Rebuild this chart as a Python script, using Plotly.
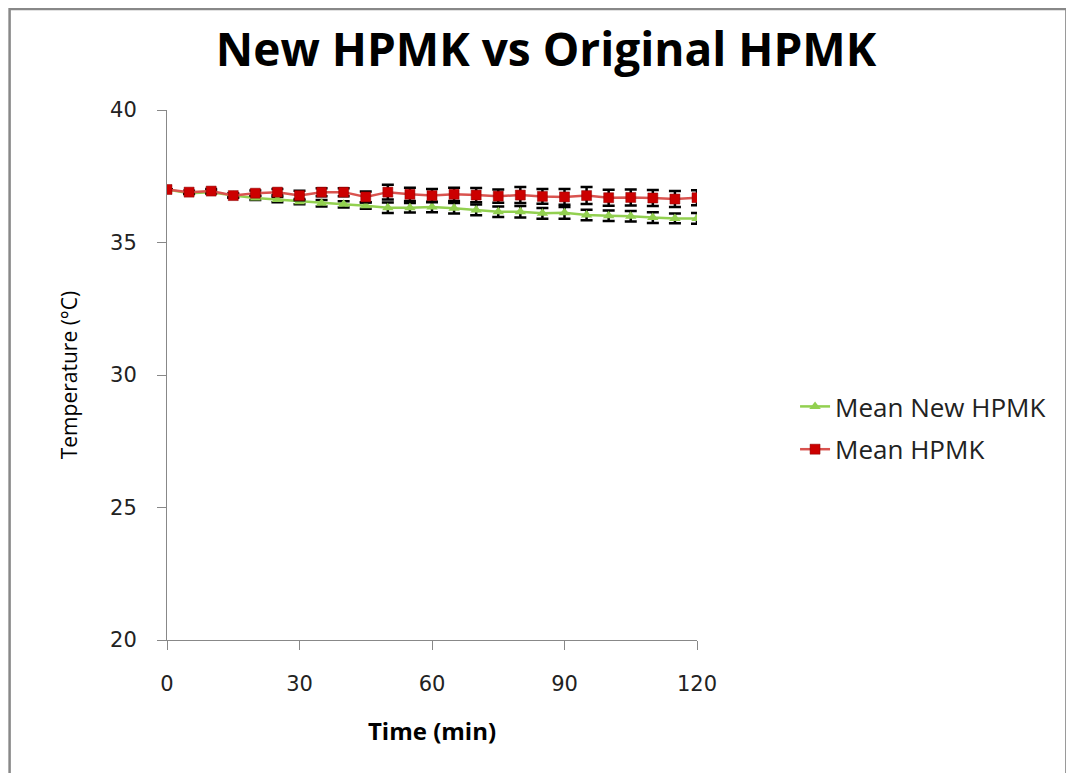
import plotly.graph_objects as go

time_min = [0, 5, 10, 15, 20, 25, 30, 35, 40, 45, 50, 55, 60, 65, 70, 75, 80, 85, 90, 95, 100, 105, 110, 115, 120]

mean_new_hpmk = [37.0, 36.86, 36.9, 36.77, 36.68, 36.62, 36.54, 36.48, 36.44, 36.39, 36.31, 36.31, 36.34, 36.29, 36.23,
                 36.16, 36.16, 36.1, 36.12, 36.04, 36.01, 35.99, 35.94, 35.91, 35.91]
sd_new_hpmk = [0.0, 0.03, 0.05, 0.06, 0.08, 0.1, 0.1, 0.12, 0.12, 0.12, 0.2, 0.18, 0.2, 0.2, 0.2,
               0.2, 0.22, 0.2, 0.22, 0.2, 0.2, 0.2, 0.2, 0.18, 0.2]

mean_hpmk = [37.0, 36.9, 36.94, 36.77, 36.86, 36.9, 36.77, 36.9, 36.9, 36.72, 36.9, 36.82, 36.77, 36.82, 36.79,
             36.75, 36.79, 36.74, 36.72, 36.77, 36.69, 36.7, 36.68, 36.64, 36.69]
sd_hpmk = [0.0, 0.05, 0.08, 0.08, 0.1, 0.12, 0.18, 0.15, 0.15, 0.2, 0.28, 0.25, 0.25, 0.25, 0.27,
           0.25, 0.3, 0.28, 0.3, 0.32, 0.3, 0.3, 0.3, 0.3, 0.28]

x_ticks = [0, 30, 60, 90, 120]
y_ticks = [20, 25, 30, 35, 40]

fig = go.Figure()
fig.add_trace(go.Scatter(
    x=time_min, y=mean_new_hpmk, name="Mean New HPMK", mode="lines+markers",
    line=dict(color="#92D050", width=2.5),
    marker=dict(symbol="triangle-up", size=10, color="#92D050"),
    error_y=dict(type="data", array=sd_new_hpmk, color="black", thickness=2.5, width=6),
    legendgroup="a",
))
fig.add_trace(go.Scatter(
    x=time_min, y=mean_hpmk, name="Mean HPMK", mode="lines+markers",
    line=dict(color="#D9534F", width=2.5),
    marker=dict(symbol="square", size=10, color="#CC0000", line=dict(color="#8B0000", width=0.5)),
    error_y=dict(type="data", array=sd_hpmk, color="black", thickness=2.5, width=6),
    legendgroup="b",
))

fig.update_layout(
    width=1074, height=773,
    margin=dict(l=159, r=385, t=102, b=141),
    paper_bgcolor="white", plot_bgcolor="white",
    title=dict(text="<b>New HPMK vs Original HPMK</b>", x=0.501, xanchor="center",
               y=0.946, yanchor="middle", font=dict(family="Open Sans", size=46, color="black")),
    legend=dict(x=1.185, y=0.40, xanchor="left", yanchor="middle",
                font=dict(family="Open Sans", size=26, color="#222222"),
                tracegroupgap=6, bgcolor="rgba(0,0,0,0)"),
    showlegend=True,
    shapes=[dict(type="rect", xref="paper", yref="paper", x0=-0.297, x1=1.697, y0=-0.4, y1=1.1905,
                 line=dict(color="#888888", width=2.5), fillcolor="rgba(0,0,0,0)", layer="below")],
)
fig.update_xaxes(
    range=[0, 120], tickvals=x_ticks, showgrid=False, zeroline=False,
    showline=True, linecolor="#888888", linewidth=1,
    ticks="outside", ticklen=9, tickcolor="#888888",
    tickfont=dict(family="DejaVu Sans", size=21, color="#222222"), ticklabelstandoff=16,
    title=dict(text="<b>Time (min)</b>", font=dict(family="Open Sans", size=24, color="black"), standoff=27),
)
fig.update_yaxes(
    range=[20, 40], tickvals=y_ticks, showgrid=False, zeroline=False,
    showline=True, linecolor="#888888", linewidth=1,
    ticks="outside", ticklen=9, tickcolor="#888888",
    tickfont=dict(family="DejaVu Sans", size=21, color="#222222"), ticklabelstandoff=16,
    title=dict(text="Temperature (°C)", font=dict(family="Open Sans", size=21, color="black"), standoff=26),
)

fig.write_html("out.html")
